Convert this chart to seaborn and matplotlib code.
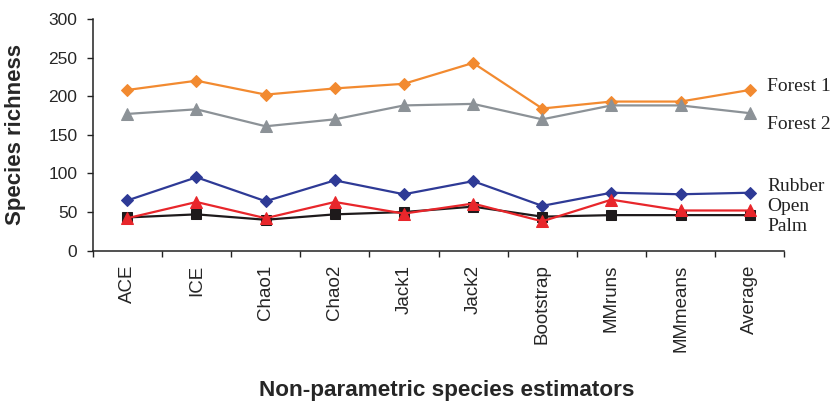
import matplotlib
matplotlib.use("Agg")
import matplotlib.pyplot as plt
import seaborn as sns
import pandas as pd

estimators = ["ACE", "ICE", "Chao1", "Chao2", "Jack1", "Jack2",
              "Bootstrap", "MMruns", "MMmeans", "Average"]
forest1 = [208, 220, 202, 210, 216, 243, 184, 193, 193, 208]
forest2 = [177, 183, 161, 170, 188, 190, 170, 188, 188, 178]
rubber = [65, 95, 64, 91, 73, 90, 58, 75, 73, 75]
palm = [43, 47, 40, 47, 50, 57, 44, 46, 46, 46]
open_ = [42, 63, 42, 63, 48, 61, 38, 66, 52, 52]

series_names = ["Forest 1", "Forest 2", "Rubber", "Palm", "Open"]
series_values = [forest1, forest2, rubber, palm, open_]
colors = ["#F28A30", "#8C9297", "#2E3A96", "#1E1A1B", "#E8262B"]
markers = ["D", "^", "D", "s", "^"]
msizes = [5.8, 9, 5.8, 7.4, 9]

# right-hand labels (name, y position in data units)
label_names = ["Forest 1", "Forest 2", "Rubber", "Open", "Palm"]
label_y = [213, 163, 82.5, 57, 31]

sns.set_style("ticks")
plt.rcParams["font.family"] = ["Liberation Sans", "DejaVu Sans"]

fig = plt.figure(figsize=(8.34, 4.03), dpi=100)
ax = fig.add_axes([0.1112, 0.378, 0.8292, 0.5751])

for name, vals, c, m, ms in zip(series_names, series_values, colors, markers, msizes):
    df = pd.DataFrame({"estimator": estimators, "richness": vals})
    sns.lineplot(data=df, x="estimator", y="richness", ax=ax, color=c,
                 marker=m, markersize=ms, markeredgecolor=c, linewidth=1.6,
                 legend=False, sort=False, clip_on=False)

ax.set_xlim(-0.5, len(estimators) - 0.5)
ax.set_ylim(0, 300)
ax.set_yticks(range(0, 301, 50))
ax.tick_params(axis="y", labelsize=12.5, length=4, width=1, direction="out", pad=7, color="#222222")

ax.set_xticks([i - 0.5 for i in range(len(estimators) + 1)])
ax.set_xticklabels([])
ax.set_xticks(range(len(estimators)), minor=True)
ax.set_xticklabels(estimators, minor=True, rotation=90, fontsize=13.5)
ax.tick_params(axis="x", which="major", length=4, width=1, direction="out", color="#222222")
ax.tick_params(axis="x", which="minor", length=0, pad=10)

for side in ["top", "right"]:
    ax.spines[side].set_visible(False)
for side in ["left", "bottom"]:
    ax.spines[side].set_linewidth(1.1)
    ax.spines[side].set_color("#222222")

ax.set_ylabel("Species richness", fontsize=16, fontweight="bold", va="center")
ax.yaxis.set_label_coords(-0.111, 0.5)
ax.set_xlabel("Non-parametric species estimators", fontsize=16.2, fontweight="bold", va="center")
ax.xaxis.set_label_coords(0.512, -0.603)

for name, y in zip(label_names, label_y):
    ax.text(9.25, y, name, fontsize=14, va="center", ha="left",
            family=["Liberation Serif", "DejaVu Serif"], color="#222222", clip_on=False)

fig.savefig("out.png", dpi=100)
